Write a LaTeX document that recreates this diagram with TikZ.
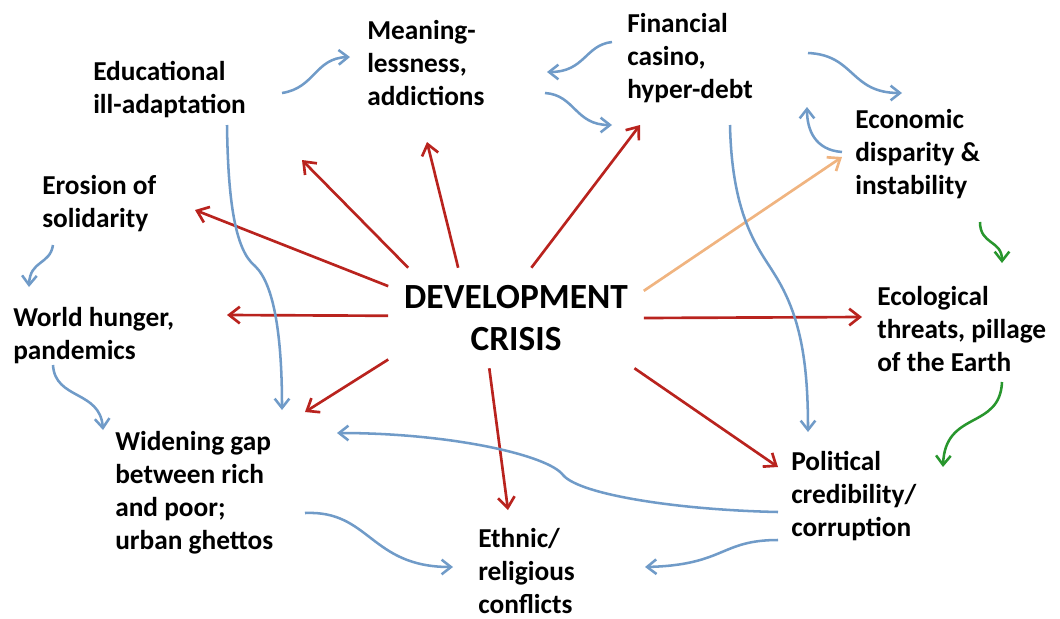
\documentclass[tikz,border=0pt]{standalone}
\usepackage{fontspec}
\setmainfont{Carlito}
\usetikzlibrary{arrows.meta,calc}

\definecolor{crisisred}{RGB}{185,35,30}
\definecolor{linkblue}{RGB}{112,155,200}
\definecolor{ecogreen}{RGB}{40,150,45}
\definecolor{softorange}{RGB}{240,180,128}

\begin{document}
\begin{tikzpicture}[x=0.75pt,y=-0.75pt,
		issue/.style={anchor=base west,align=left,inner sep=0pt,
			font=\fontsize{20.5}{24.75}\selectfont\bfseries},
		core/.style={align=center,inner sep=0pt,minimum width=191.25pt,minimum height=75pt,
			font=\fontsize{26.5}{32}\selectfont\bfseries},
		crisis/.style={draw=crisisred,line width=2pt,-{Straight Barb[length=8pt,width=12.5pt]}},
		link/.style={draw=linkblue,line width=1.9pt,-{Straight Barb[length=7pt,width=11pt]}}]

		\useasboundingbox (0,0) rectangle (1060,618);

		\node[core] (dev) at (516,318) {DEVELOPMENT\\CRISIS};

		% issues, placed at the baseline of their last line
		\node[issue] (meaning) at (367,105) {Meaning-\\lessness,\\addictions};
		\node[issue] (educ) at (93,113) {Educational\\ill-adaptation};
		\node[issue] (erosion) at (42,227) {Erosion of\\solidarity};
		\node[issue] (world) at (13,359) {World hunger,\\pandemics};
		\node[issue] (widen) at (115,549) {Widening gap\\between rich\\and poor;\\urban ghettos};
		\node[issue] (ethnic) at (478,613) {Ethnic/\\religious\\conflicts};
		\node[issue] (polit) at (791,536) {Political\\credibility/\\corruption};
		\node[issue] (ecol) at (877,371) {Ecological\\threats, pillage\\of the Earth};
		\node[issue] (econ) at (855,194) {Economic\\disparity \&\\instability};
		\node[issue] (fin) at (627,98) {Financial\\casino,\\hyper-debt};

		% red arrows out of the crisis
		\draw[crisis] (dev.166) -- ($(erosion.base west)+(153,-17)$);
		\draw[crisis] (dev.155) -- ($(educ.base west)+(209,47)$);
		\draw[crisis] (dev.139) -- ($(meaning.base west)+(60,37)$);
		\draw[crisis] (dev.73) -- ($(fin.base west)+(13,27)$);
		\draw[crisis,draw=softorange] (dev.12) -- ($(econ.base west)+(-13,-37)$);
		\draw[crisis] (dev.0) -- ($(ecol.base west)+(-15,-54)$);
		\draw[crisis] (dev.-23) -- ($(polit.base west)+(-13,-69)$);
		\draw[crisis] (dev.242) -- ($(ethnic.base west)+(30,-103)$);
		\draw[crisis] (dev.198) -- ($(widen.base west)+(190,-137)$);
		\draw[crisis] (dev.179) -- ($(world.base west)+(214,-44)$);

		% blue links between issues
		\draw[link] ($(educ.base west)+(189,-20)$) .. controls +(33,-5) and +(-35,1) .. ($(meaning.base west)+(-17,-48)$);
		\draw[link] ($(fin.base west)+(-15,-56)$) .. controls +(-27,3) and +(38,0) .. ($(meaning.base west)+(180,-33)$);
		\draw[link] ($(meaning.base west)+(178,-12)$) .. controls +(30,2) and +(-37,0) .. ($(fin.base west)+(-15,27)$);
		\draw[link] ($(fin.base west)+(181,-45)$) .. controls +(47,2) and +(-52,0) .. ($(econ.base west)+(47,-101)$);
		\draw[link] ($(econ.base west)+(-13,-42)$) .. controls +(-27,-2) and +(0,23) .. ($(econ.base west)+(-48,-87)$);
		\draw[link] ($(fin.base west)+(103,27)$) .. controls +(2,95) and +(-15,-25) .. ($(fin.base west)+(148,177)$)
			.. controls +(25,40) and +(0,-72) .. ($(polit.base west)+(17,-104)$);
		\draw[link] ($(educ.base west)+(134,12)$) .. controls +(1,75) and +(-20,-16) .. ($(educ.base west)+(162,153)$)
			.. controls +(20,19) and +(0,-70) .. ($(widen.base west)+(167,-139)$);
		\draw[link] ($(erosion.base west)+(11,18)$) .. controls +(-3,20) and +(1,-27) .. ($(world.base west)+(16,-72)$);
		\draw[link] ($(world.base west)+(40,6)$) .. controls +(2,35) and +(-3,-40) .. ($(widen.base west)+(-12,-119)$);
		\draw[link] ($(polit.base west)+(-13,-24)$) .. controls +(-98,-2) and +(17,20) .. ($(polit.base west)+(-228,-61)$)
			.. controls +(-15,-20) and +(113,0) .. ($(widen.base west)+(222,-116)$);
		\draw[link] ($(widen.base west)+(190,-36)$) .. controls +(65,-3) and +(-83,0) .. ($(ethnic.base west)+(-25,-46)$);
		\draw[link] ($(polit.base west)+(-13,4)$) .. controls +(-58,0) and +(80,-2) .. ($(ethnic.base west)+(167,-46)$);

		% green chain on the right
		\draw[link,draw=ecogreen] ($(econ.base west)+(125,28)$) .. controls +(0,23) and +(0,-23) .. ($(ecol.base west)+(125,-108)$);
		\draw[link,draw=ecogreen] ($(ecol.base west)+(125,11)$) .. controls +(-2,48) and +(2,-57) .. ($(polit.base west)+(152,-69)$);
	\end{tikzpicture}
\end{document}
